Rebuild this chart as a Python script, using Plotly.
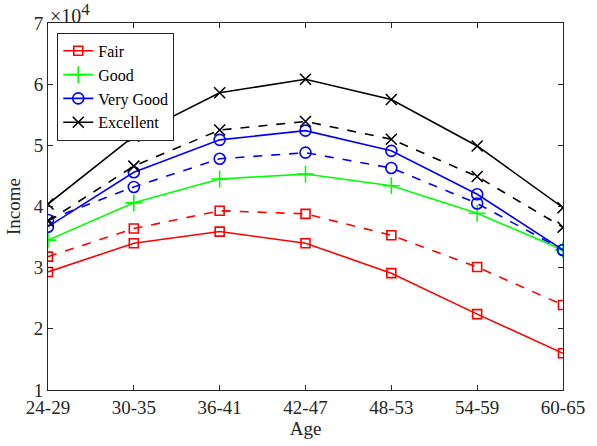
import plotly.graph_objects as go

ages = ["24-29", "30-35", "36-41", "42-47", "48-53", "54-59", "60-65"]
fair = [29300, 34000, 35900, 34000, 29100, 22400, 16000]
fair_d = [31800, 36400, 39300, 38800, 35300, 30100, 23900]
good = [34500, 40600, 44500, 45300, 43400, 38900, 32900]
vgood = [36700, 45600, 50900, 52400, 49100, 42000, 32900]
vgood_d = [37800, 43200, 47800, 48800, 46300, 40500, 32900]
exc = [40400, 51500, 58600, 60800, 57500, 49900, 39800]
exc_d = [37600, 46600, 52500, 53900, 51000, 44900, 36600]
ytick_vals = [10000, 20000, 30000, 40000, 50000, 60000, 70000]
ytick_text = ["1", "2", "3", "4", "5", "6", "7"]

x = list(range(len(ages)))
fig = go.Figure()

def add(y, name, color, symbol, dash, show, size):
    fig.add_trace(go.Scatter(
        x=x, y=y, name=name, mode="lines+markers", showlegend=show,
        line=dict(color=color, width=1.6, dash=dash),
        marker=dict(symbol=symbol, size=size, color=color,
                    line=dict(color=color, width=1.6)),
    ))

add(fair, "Fair", "#ff0000", "square-open", "solid", True, 9)
add(good, "Good", "#00ff00", "cross-thin-open", "solid", True, 12)
add(vgood, "Very Good", "#0000ff", "circle-open", "solid", True, 11)
add(exc, "Excellent", "#000000", "x-thin-open", "solid", True, 11)
add(fair_d, "Fair (d)", "#ff0000", "square-open", "dash", False, 9)
add(vgood_d, "Very Good (d)", "#0000ff", "circle-open", "dash", False, 11)
add(exc_d, "Excellent (d)", "#000000", "x-thin-open", "dash", False, 11)

axcol = "#262626"
fam = "Liberation Serif"
fs = 19
font = dict(family=fam, size=fs, color=axcol)
fig.update_layout(
    width=597, height=446,
    margin=dict(l=48, r=24, t=23, b=56),
    paper_bgcolor="white", plot_bgcolor="white",
    font=font,
    showlegend=True,
    legend=dict(x=0.018, y=0.973, xanchor="left", yanchor="top",
                bgcolor="white", bordercolor=axcol, borderwidth=1,
                font=dict(family=fam, size=16, color="black"),
                tracegroupgap=0, itemwidth=30),
    xaxis=dict(range=[0, 6], tickvals=x, ticktext=ages, showgrid=False,
               zeroline=False, showline=True, linecolor=axcol, linewidth=1,
               mirror="allticks", ticks="inside", ticklen=5, tickcolor=axcol,
               tickfont=font,
               title=dict(text="Age", standoff=0, font=font)),
    yaxis=dict(range=[10000, 70000], tickvals=ytick_vals, ticktext=ytick_text,
               showgrid=False, zeroline=False, showline=True, linecolor=axcol,
               linewidth=1, mirror="allticks", ticks="inside", ticklen=5,
               tickcolor=axcol, tickfont=font,
               title=dict(text="Income", standoff=8, font=font)),
    annotations=[dict(text="×10<sup><span style='font-size:17px'>4</span></sup>",
                      xref="paper", yref="paper",
                      x=0, y=1, xanchor="left", yanchor="bottom",
                      showarrow=False, font=dict(family=fam, size=20, color=axcol), yshift=-6)],
)

fig.write_html("out.html")
